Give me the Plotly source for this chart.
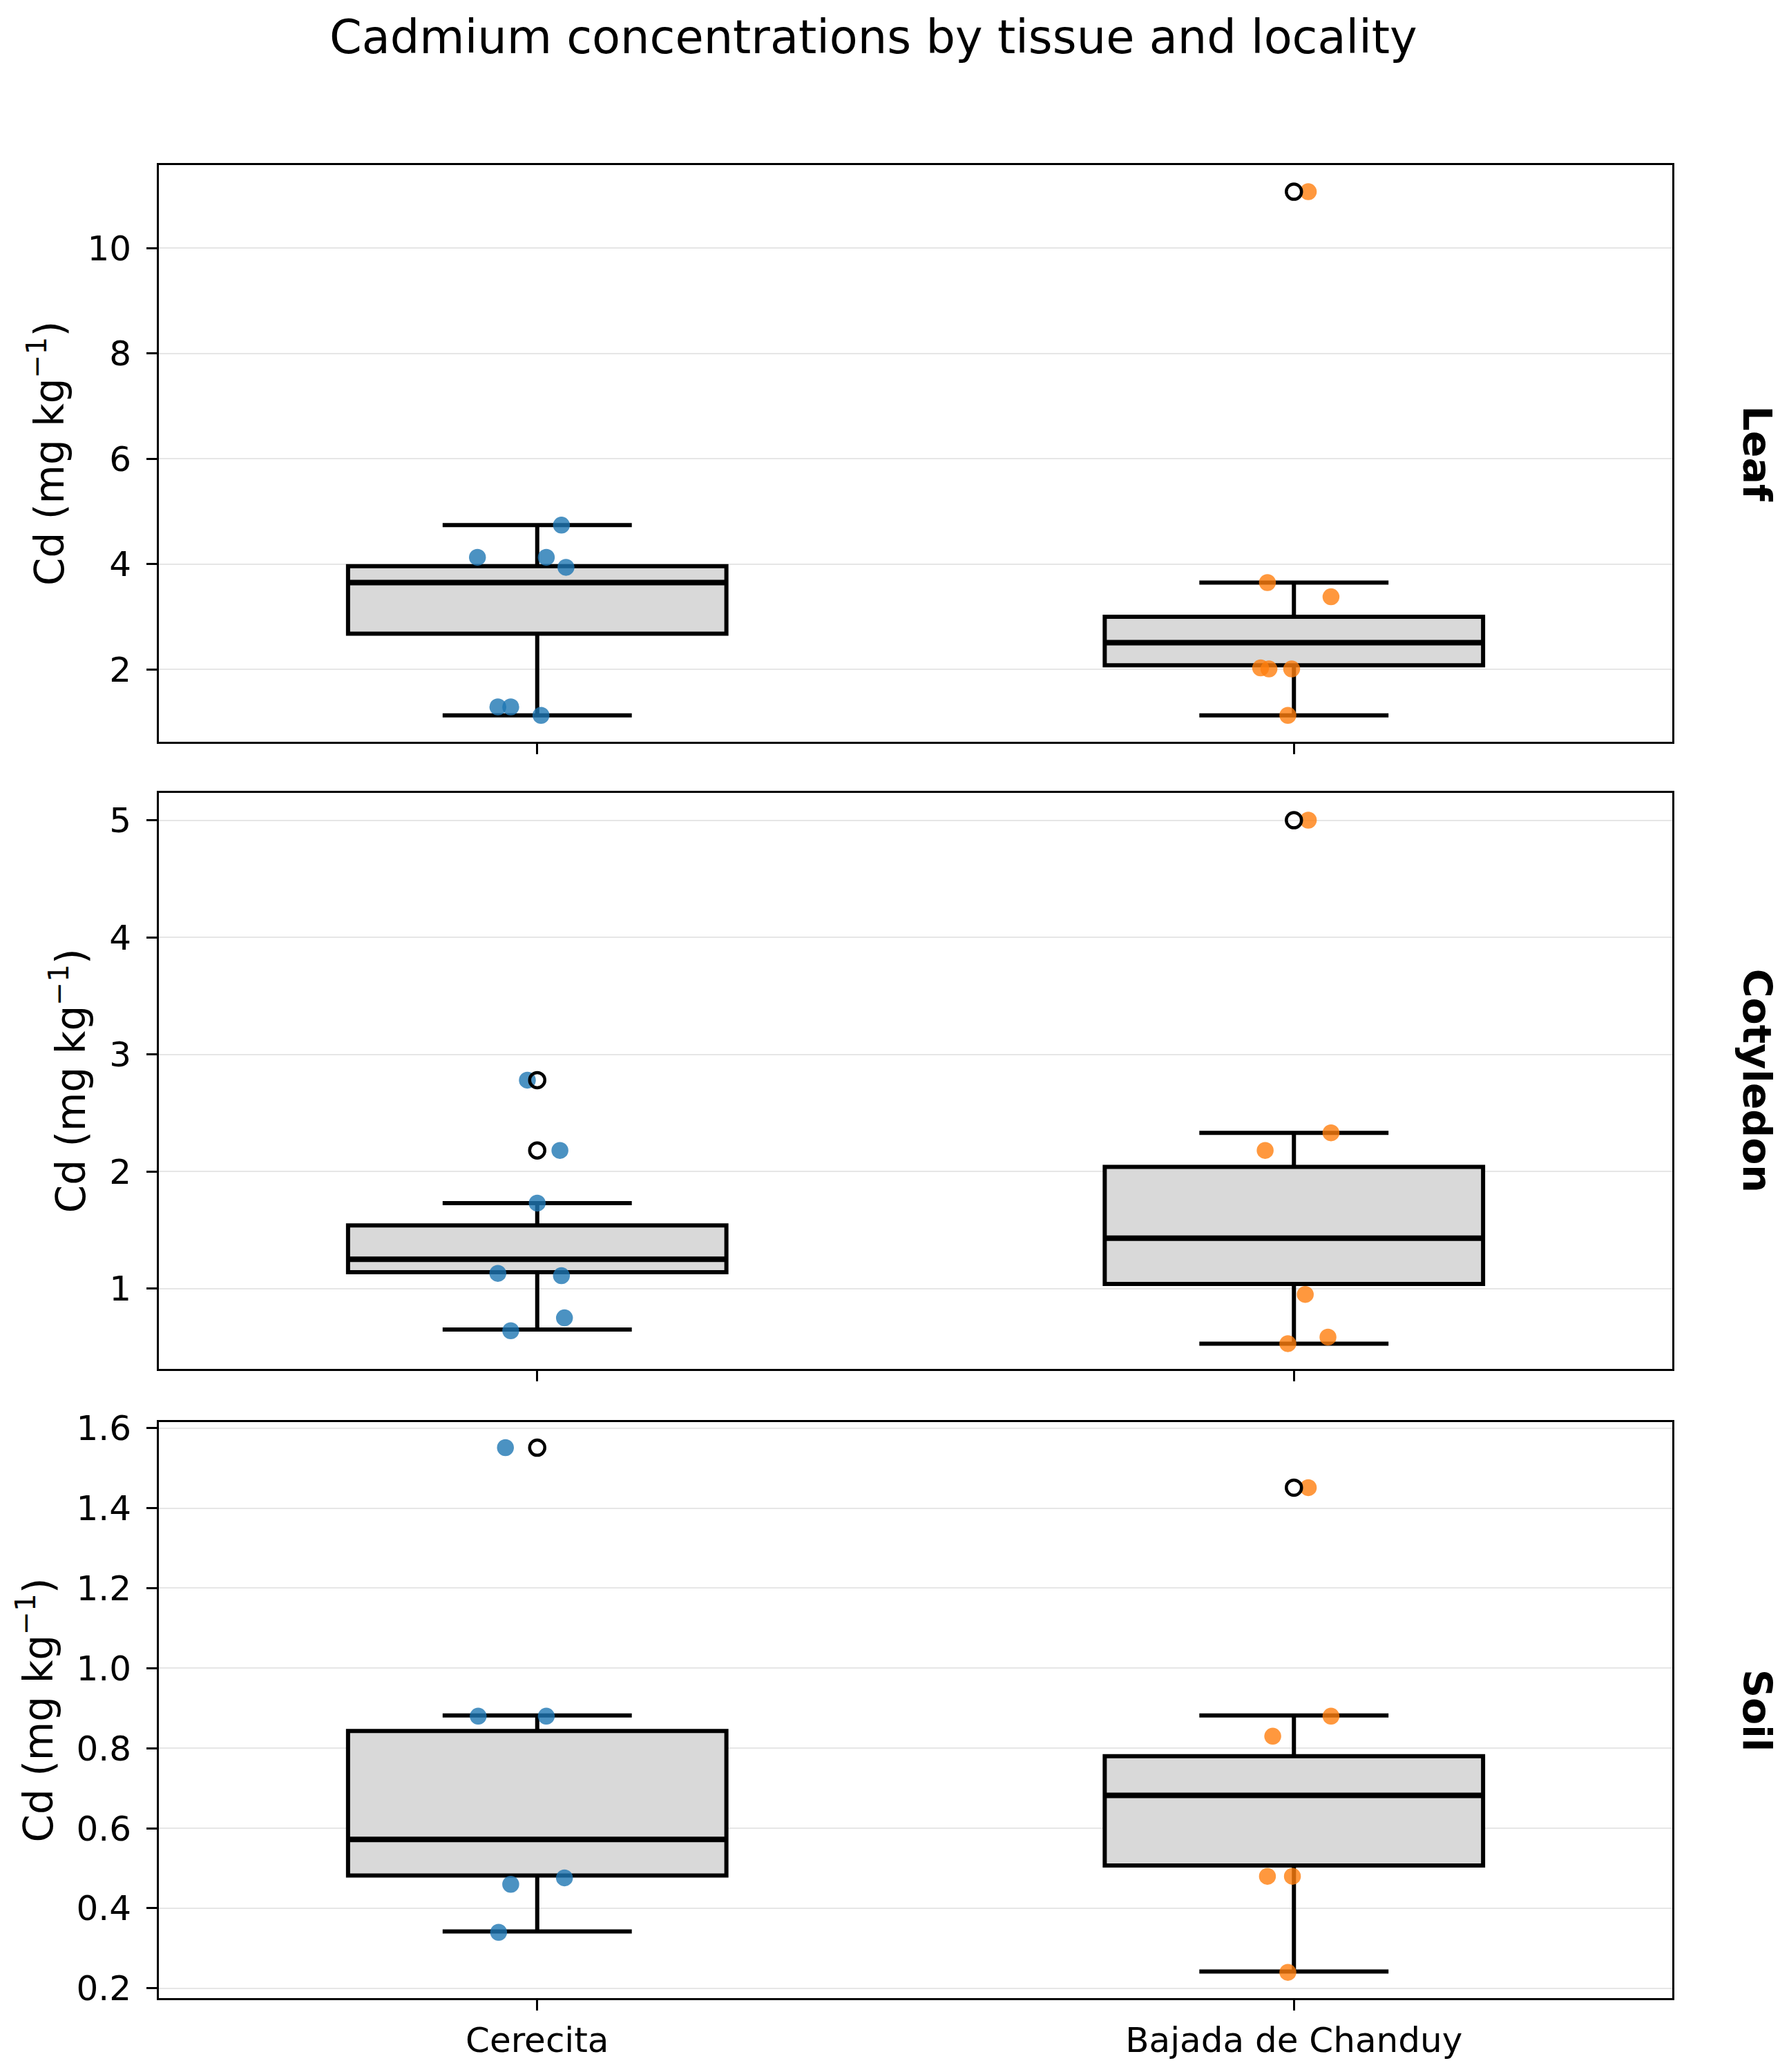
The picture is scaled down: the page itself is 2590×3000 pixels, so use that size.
import plotly.graph_objects as go
from plotly.subplots import make_subplots

# categories
localities = ["Cerecita", "Bajada de Chanduy"]
tissues = ["Leaf", "Cotyledon", "Soil"]

# visible sample points per group (mg/kg) and their horizontal jitter
leaf_cer_vals = [4.74, 4.13, 4.13, 3.94, 1.29, 1.29, 1.13]
leaf_cer_jit = [0.032, -0.079, 0.012, 0.038, -0.052, -0.035, 0.005]
leaf_baj_vals = [11.07, 3.65, 3.38, 2.03, 2.01, 2.01, 1.13]
leaf_baj_jit = [0.019, -0.035, 0.049, -0.044, -0.033, -0.003, -0.008]

cot_cer_vals = [2.78, 2.18, 1.73, 1.13, 1.11, 0.75, 0.64]
cot_cer_jit = [-0.013, 0.030, 0.0, -0.052, 0.032, 0.036, -0.035]
cot_baj_vals = [5.0, 2.33, 2.18, 0.95, 0.586, 0.53]
cot_baj_jit = [0.019, 0.049, -0.038, 0.015, 0.045, -0.008]

soil_cer_vals = [1.551, 0.88, 0.88, 0.476, 0.46, 0.34]
soil_cer_jit = [-0.042, -0.078, 0.012, 0.036, -0.035, -0.051]
soil_baj_vals = [1.451, 0.88, 0.83, 0.48, 0.48, 0.24]
soil_baj_jit = [0.019, 0.049, -0.028, -0.035, -0.002, -0.008]

# box stats: q1, median, q3, lower whisker, upper whisker
leaf_cer_box = [2.68, 3.65, 3.96, 1.13, 4.74]
leaf_baj_box = [2.08, 2.51, 3.0, 1.13, 3.65]
cot_cer_box = [1.14, 1.25, 1.54, 0.65, 1.73]
cot_baj_box = [1.04, 1.43, 2.04, 0.53, 2.33]
soil_cer_box = [0.482, 0.572, 0.843, 0.342, 0.882]
soil_baj_box = [0.507, 0.682, 0.78, 0.242, 0.882]

# fliers
leaf_cer_out = []
leaf_baj_out = [11.07]
cot_cer_out = [2.78, 2.18]
cot_baj_out = [5.0]
soil_cer_out = [1.551]
soil_baj_out = [1.451]

colors = ["#1f77b4", "#ff7f0e"]
box_w = 0.5

panels = [
    [(leaf_cer_vals, leaf_cer_jit, leaf_cer_box, leaf_cer_out),
     (leaf_baj_vals, leaf_baj_jit, leaf_baj_box, leaf_baj_out)],
    [(cot_cer_vals, cot_cer_jit, cot_cer_box, cot_cer_out),
     (cot_baj_vals, cot_baj_jit, cot_baj_box, cot_baj_out)],
    [(soil_cer_vals, soil_cer_jit, soil_cer_box, soil_cer_out),
     (soil_baj_vals, soil_baj_jit, soil_baj_box, soil_baj_out)],
]

fig = make_subplots(rows=3, cols=1, shared_xaxes=True)

for r, groups in enumerate(panels, start=1):
    # strip points sit under the boxes
    for i, (vals, jit, box, out) in enumerate(groups):
        fig.add_trace(go.Scatter(
            x=[i + j for j in jit], y=vals, mode="markers",
            marker=dict(color=colors[i], size=23, opacity=0.8,
                        line=dict(color=colors[i], width=1.5)),
            showlegend=False, hoverinfo="y"), row=r, col=1)
    for i, (vals, jit, box, out) in enumerate(groups):
        fig.add_trace(go.Box(
            x=[i], q1=[box[0]], median=[box[1]], q3=[box[2]],
            lowerfence=[box[3]], upperfence=[box[4]],
            width=box_w, whiskerwidth=0.5, boxpoints=False,
            fillcolor="#d9d9d9", line=dict(color="black", width=6),
            showlegend=False), row=r, col=1)
        # heavier median line, as in the original
        fig.add_trace(go.Scatter(
            x=[i - box_w / 2, i + box_w / 2], y=[box[1], box[1]], mode="lines",
            line=dict(color="black", width=8), showlegend=False,
            hoverinfo="skip"), row=r, col=1)
    for i, (vals, jit, box, out) in enumerate(groups):
        if out:
            fig.add_trace(go.Scatter(
                x=[i] * len(out), y=out, mode="markers",
                marker=dict(symbol="circle-open", color="black", size=22,
                            line=dict(width=4.5)),
                showlegend=False, hoverinfo="y"), row=r, col=1)

W, H = 2590, 3000
x_dom = [230 / W, 2421 / W]
y_doms = [[1 - 1066 / H, 1 - 222 / H],
          [1 - 1985 / H, 1 - 1141 / H],
          [1 - 2907 / H, 1 - 2063 / H]]
y_ranges = [[0.634, 11.57], [0.315, 5.235], [0.1755, 1.615]]
y_ticks = [[2, 4, 6, 8, 10], [1, 2, 3, 4, 5],
           [0.2, 0.4, 0.6, 0.8, 1.0, 1.2, 1.4, 1.6]]
y_fmt = ["d", "d", ".1f"]

for r in range(1, 4):
    fig.update_xaxes(
        row=r, col=1, domain=x_dom, range=[-0.5, 1.5],
        tickvals=[0, 1], ticktext=localities, showticklabels=(r == 3),
        ticks="outside", ticklen=15, tickwidth=3, tickcolor="black",
        showline=True, mirror=True, linecolor="black", linewidth=3,
        showgrid=False, zeroline=False, tickfont=dict(size=50))
    fig.update_yaxes(
        row=r, col=1, domain=y_doms[r - 1], range=y_ranges[r - 1],
        tickvals=y_ticks[r - 1], tickformat=y_fmt[r - 1],
        ticks="outside", ticklen=15, tickwidth=3, tickcolor="black",
        ticklabelstandoff=12,
        showline=True, mirror=True, linecolor="black", linewidth=3,
        showgrid=True, gridcolor="#e6e6e6", gridwidth=2, zeroline=False,
        tickfont=dict(size=50),
        title=dict(text="Cd (mg kg<sup>\u22121</sup>)", font=dict(size=58), standoff=16))

annotations = [dict(text="Cadmium concentrations by tissue and locality",
                    x=1264 / W, y=1 - 34 / H, xref="paper", yref="paper",
                    showarrow=False, font=dict(size=67), xanchor="center", yanchor="middle")]
for r, t in enumerate(tissues):
    annotations.append(dict(text="<b>" + t + "</b>", x=2544 / W,
                            y=sum(y_doms[r]) / 2, xref="paper", yref="paper",
                            showarrow=False, textangle=90, font=dict(size=57),
                            xanchor="center", yanchor="middle"))

fig.update_layout(
    width=W, height=H, margin=dict(l=0, r=0, t=0, b=0), autosize=False,
    plot_bgcolor="white", paper_bgcolor="white",
    font=dict(family="DejaVu Sans", color="black", size=50),
    boxmode="overlay", annotations=annotations)

fig.write_html("out.html", config={"displayModeBar": False},
               post_script="document.body.style.margin='0';")
